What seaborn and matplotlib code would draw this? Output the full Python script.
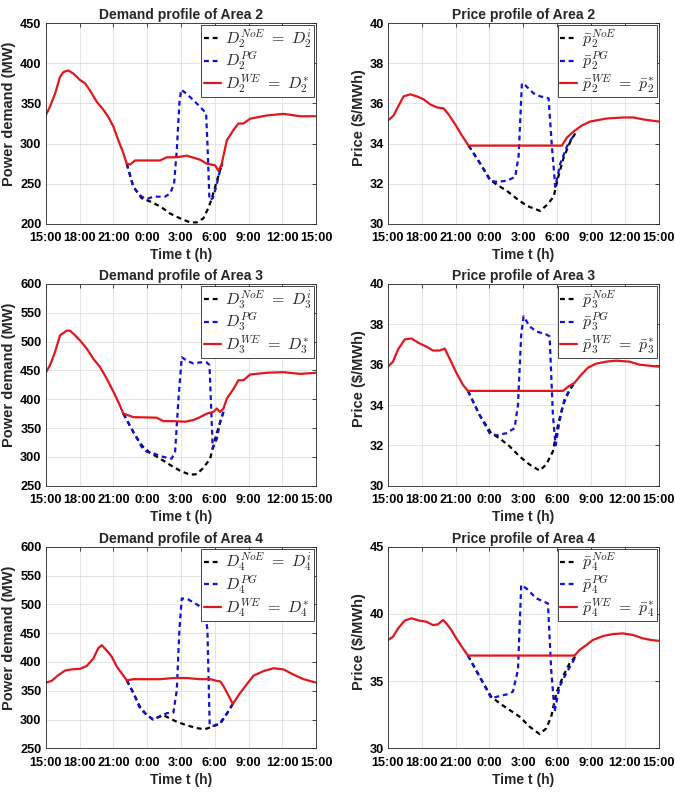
import numpy as np
import matplotlib
matplotlib.use("Agg")
import matplotlib.pyplot as plt
import seaborn as sns

# ---------------- data (x in hours after 15:00) ----------------
xtick_labels = ["15:00", "18:00", "21:00", "0:00", "3:00", "6:00", "9:00", "12:00", "15:00"]

# Demand, Area 2
d2_we_t = [0.00,0.38,0.83,1.27,1.57,2.01,2.46,3.05,3.49,3.93,4.53,5.12,5.56,6.01,6.45,6.89,7.19,7.49,7.93,10.15,10.74,11.63,12.51,13.70,14.29,15.03,15.33,15.62,16.07,16.66,17.10,17.54,18.14,19.62,21.09,22.57,24.00]
d2_we = [335,346,362,383,389,391,387,379,375,366,352,342,333,321,304,288,275,274,279,279,283,283,285,280,275,273,266,275,304,317,325,325,331,335,337,334,334]
d2_noe_t = [7.19,7.78,8.52,9.26,10.15,11.04,11.92,12.81,13.40,13.99,14.40,14.70,15.03,15.47,15.68]
d2_noe = [275,246,232,228,222,213,207,202,202,207,219,230,246,267,275]
d2_pg_t = [7.19,7.78,8.52,8.96,9.56,10.59,11.04,11.39,11.63,11.86,12.01,12.51,13.40,14.23,14.35,14.53,14.82,15.12,15.47,15.68]
d2_pg = [275,246,234,231,234,234,238,250,292,350,367,362,350,338,300,230,232,246,267,275]

# Price, Area 2
p2_we_t = [0.00,0.50,0.95,1.39,1.98,2.57,3.16,3.75,4.35,4.94,5.38,5.97,6.56,7.15,15.43,15.87,16.46,17.20,17.94,19.42,20.90,21.79,22.67,24.00]
p2_we = [35.15,35.4,35.9,36.35,36.45,36.35,36.2,35.95,35.8,35.75,35.45,34.95,34.4,33.9,33.9,34.3,34.6,34.9,35.1,35.25,35.3,35.3,35.2,35.1]
p2_noe_t = [7.15,8.19,9.07,9.67,10.55,11.44,12.33,13.51,14.10,14.69,15.13,15.58,16.17,16.61]
p2_noe = [33.9,33.0,32.2,31.95,31.65,31.25,30.9,30.65,30.95,31.35,32.4,33.3,34.1,34.5]
p2_pg_t = [7.15,8.19,9.07,9.67,10.55,11.29,11.59,11.88,12.18,12.92,13.51,14.25,14.54,14.84,15.28,15.87,16.46,16.61]
p2_pg = [33.9,33.0,32.15,32.1,32.15,32.35,33.4,37.0,36.9,36.5,36.35,36.25,33.85,31.85,33.0,33.85,34.4,34.5]

# Demand, Area 3
d3_we_t = [0.00,0.38,0.83,1.27,1.86,2.16,2.60,3.05,3.64,4.23,4.82,5.41,6.01,6.45,6.89,7.34,7.78,9.85,10.44,11.33,12.37,13.11,13.70,14.29,14.88,15.18,15.47,15.77,16.07,16.66,17.10,17.54,18.14,19.62,21.09,22.57,24.00]
d3_we = [446,459,482,511,519,519,511,502,488,470,456,436,413,395,375,372,369,368,362,362,361,364,369,375,378,384,378,384,401,418,433,433,443,446,447,444,446]
d3_noe_t = [6.89,7.78,8.52,9.26,10.15,11.04,11.92,12.81,13.40,13.99,14.59,15.03,15.47,15.77]
d3_noe = [375,343,320,307,297,286,276,269,270,281,297,331,360,378]
d3_pg_t = [6.89,7.78,8.52,8.96,9.56,10.44,11.18,11.48,11.78,12.07,12.51,13.11,13.70,14.29,14.53,14.82,15.18,15.47,15.77]
d3_pg = [375,343,317,309,306,300,297,309,401,473,467,462,464,464,459,315,331,360,378]

# Price, Area 3
p3_we_t = [0.00,0.44,0.89,1.48,2.07,2.81,3.40,3.99,4.58,5.03,5.47,6.06,6.65,7.09,15.52,15.96,16.55,17.14,17.74,18.47,19.36,20.25,21.43,22.32,23.20,24.00]
p3_we = [35.9,36.15,36.75,37.25,37.3,37.05,36.9,36.7,36.7,36.8,36.3,35.6,35.0,34.7,34.7,34.9,35.1,35.5,35.85,36.05,36.15,36.2,36.15,36.0,35.95,35.9]
p3_noe_t = [7.09,8.13,9.16,9.90,10.79,11.68,12.56,13.45,14.04,14.63,15.08,15.52,16.11,16.55]
p3_noe = [34.7,33.5,32.6,32.35,31.95,31.45,31.05,30.75,31.05,31.7,33.0,34.0,34.75,35.1]
p3_pg_t = [7.09,8.13,9.02,9.61,10.49,11.23,11.53,11.82,12.03,12.56,13.15,14.04,14.34,14.63,14.87,15.22,15.67,16.11,16.55]
p3_pg = [34.7,33.5,32.6,32.5,32.6,32.85,34.0,37.5,38.4,37.9,37.65,37.5,37.4,33.5,32.0,33.2,34.3,34.75,35.1]

# Demand, Area 4
d4_we_t = [0.00,0.53,1.12,1.72,2.31,3.05,3.64,4.23,4.67,4.97,5.41,5.86,6.30,6.75,7.19,7.78,10.15,11.33,12.51,13.70,14.59,15.18,15.50,15.80,16.10,16.60,17.25,17.84,18.43,19.32,20.21,21.09,21.98,22.87,24.00]
d4_we = [364,367,377,385,387,388,393,406,424,429,420,409,392,380,368,370,370,372,372,370,370,367,366,357,346,327,346,361,376,384,389,387,378,370,364]
d4_noe_t = [7.19,7.78,8.37,8.96,9.52,10.40,11.00,11.63,12.51,13.40,14.10,14.70,15.50,16.10,16.60]
d4_noe = [368,346,322,308,300,308,302,296,290,285,283,287,293,311,327]
d4_pg_t = [7.19,7.78,8.37,8.96,9.52,10.15,10.74,11.33,11.63,11.86,12.07,12.51,13.40,14.14,14.35,14.55,14.90,15.50,16.10,16.60]
d4_pg = [368,346,319,308,300,305,311,312,351,455,510,510,500,490,455,290,289,295,311,327]

# Price, Area 4
p4_we_t = [0.00,0.44,0.89,1.48,2.07,2.81,3.40,3.99,4.43,4.88,5.17,5.62,6.06,6.65,7.09,16.55,17.00,17.59,18.18,19.07,19.95,20.84,21.73,22.61,23.35,24.00]
p4_we = [38.06,38.3,38.92,39.5,39.67,39.5,39.42,39.17,39.22,39.55,39.3,38.8,38.18,37.43,36.9,36.9,37.32,37.68,38.06,38.35,38.5,38.55,38.43,38.18,38.06,38.0]
p4_noe_t = [7.09,8.13,9.16,9.90,10.79,11.68,12.56,13.45,14.04,14.48,14.93,15.52,16.11,16.70]
p4_noe = [36.9,35.33,33.84,33.35,32.85,32.35,31.61,31.06,31.48,32.35,34.09,35.33,36.32,36.9]
p4_pg_t = [7.09,8.13,9.16,9.90,10.49,11.08,11.53,11.82,12.27,13.15,14.19,14.48,14.78,15.22,15.81,16.40,16.70]
p4_pg = [36.9,35.33,33.72,33.89,34.0,34.21,35.83,42.15,41.9,41.16,40.78,35.83,32.73,34.59,35.58,36.44,36.9]

# ---------------- style ----------------
sns.set_theme(style="whitegrid")
plt.rcParams['font.family'] = ['Liberation Sans', 'DejaVu Sans']
plt.rcParams['mathtext.fontset'] = 'cm'
plt.rcParams['axes.edgecolor'] = '0.15'
plt.rcParams['axes.linewidth'] = 0.6
plt.rcParams['grid.color'] = '0.88'
plt.rcParams['grid.linewidth'] = 0.6

BLACK = '#000000'
BLUE = '#1010d8'
RED = '#e3161b'
DASH = (0, (2.2, 1.7))
LW = 1.6

fig = plt.figure(figsize=(6.75, 7.92), dpi=100)

W, H = 675.0, 792.0
cols = [45.7, 388.0]
axw = 270.5
rows = [(23.0, 224.0), (284.0, 485.7), (546.7, 748.3)]

panels = [
    dict(title="Demand profile of Area 2", ylabel="Power demand (MW)", ylim=(200, 450), yt=np.arange(200, 451, 50),
         noe=(d2_noe_t, d2_noe), pg=(d2_pg_t, d2_pg), we=(d2_we_t, d2_we),
         labels=[r'$D_2^{NoE}\ =\ D_2^{i}$', r'$D_2^{PG}$', r'$D_2^{WE}\ =\ D_2^{*}$']),
    dict(title="Price profile of Area 2", ylabel="Price (\\$/MWh)", ylim=(30, 40), yt=np.arange(30, 41, 2),
         noe=(p2_noe_t, p2_noe), pg=(p2_pg_t, p2_pg), we=(p2_we_t, p2_we),
         labels=[r'$\bar{p}_2^{NoE}$', r'$\bar{p}_2^{PG}$', r'$\bar{p}_2^{WE}\ =\ \bar{p}_2^{*}$']),
    dict(title="Demand profile of Area 3", ylabel="Power demand (MW)", ylim=(250, 600), yt=np.arange(250, 601, 50),
         noe=(d3_noe_t, d3_noe), pg=(d3_pg_t, d3_pg), we=(d3_we_t, d3_we),
         labels=[r'$D_3^{NoE}\ =\ D_3^{i}$', r'$D_3^{PG}$', r'$D_3^{WE}\ =\ D_3^{*}$']),
    dict(title="Price profile of Area 3", ylabel="Price (\\$/MWh)", ylim=(30, 40), yt=np.arange(30, 41, 2),
         noe=(p3_noe_t, p3_noe), pg=(p3_pg_t, p3_pg), we=(p3_we_t, p3_we),
         labels=[r'$\bar{p}_3^{NoE}$', r'$\bar{p}_3^{PG}$', r'$\bar{p}_3^{WE}\ =\ \bar{p}_3^{*}$']),
    dict(title="Demand profile of Area 4", ylabel="Power demand (MW)", ylim=(250, 600), yt=np.arange(250, 601, 50),
         noe=(d4_noe_t, d4_noe), pg=(d4_pg_t, d4_pg), we=(d4_we_t, d4_we),
         labels=[r'$D_4^{NoE}\ =\ D_4^{i}$', r'$D_4^{PG}$', r'$D_4^{WE}\ =\ D_4^{*}$']),
    dict(title="Price profile of Area 4", ylabel="Price (\\$/MWh)", ylim=(30, 45), yt=np.arange(30, 46, 5),
         noe=(p4_noe_t, p4_noe), pg=(p4_pg_t, p4_pg), we=(p4_we_t, p4_we),
         labels=[r'$\bar{p}_4^{NoE}$', r'$\bar{p}_4^{PG}$', r'$\bar{p}_4^{WE}\ =\ \bar{p}_4^{*}$']),
]

for i, p in enumerate(panels):
    r, c = divmod(i, 2)
    top, bot = rows[r]
    ax = fig.add_axes([cols[c] / W, 1 - bot / H, axw / W, (bot - top) / H])
    sns.lineplot(x=p['noe'][0], y=p['noe'][1], ax=ax, color=BLACK, linestyle=DASH, lw=LW,
                 sort=False, estimator=None, label=p['labels'][0])
    sns.lineplot(x=p['pg'][0], y=p['pg'][1], ax=ax, color=BLUE, linestyle=DASH, lw=LW,
                 sort=False, estimator=None, label=p['labels'][1])
    sns.lineplot(x=p['we'][0], y=p['we'][1], ax=ax, color=RED, linestyle='-', lw=LW,
                 sort=False, estimator=None, label=p['labels'][2])
    ax.set_xlim(0, 24)
    ax.set_ylim(*p['ylim'])
    ax.set_xticks(np.arange(0, 25, 3))
    ax.set_xticklabels(xtick_labels)
    ax.set_yticks(p['yt'])
    ax.tick_params(axis='both', which='both', direction='in', length=3, width=0.6,
                   top=True, right=True, labelsize=9.2, colors='0.15', labelcolor='black')
    ax.tick_params(axis='x', pad=6)
    ax.tick_params(axis='y', pad=3)
    for lab in ax.get_xticklabels() + ax.get_yticklabels():
        lab.set_fontweight('bold')
    ax.set_title(p['title'], fontsize=10, fontweight='bold', pad=3)
    ax.set_xlabel("Time t (h)", fontsize=10, fontweight='bold', labelpad=3)
    ax.set_ylabel(p['ylabel'], fontsize=10.5, fontweight='bold')
    if c == 0:
        ax.yaxis.set_label_coords(-0.11, 0.55)
    else:
        ax.yaxis.set_label_coords(-0.083, 0.53)
    ax.grid(True, color='0.88', lw=0.6)
    for s in ax.spines.values():
        s.set_visible(True)
        s.set_color('0.15')
        s.set_linewidth(0.6)
    leg = ax.legend(loc='upper right', fontsize=11.5, frameon=True, fancybox=False,
                    edgecolor='0.15', framealpha=1.0, borderaxespad=0.12, borderpad=0.15,
                    handlelength=1.05, handletextpad=0.3, labelspacing=0.0)
    leg.get_frame().set_linewidth(0.6)

fig.savefig("out.png", dpi=100)
